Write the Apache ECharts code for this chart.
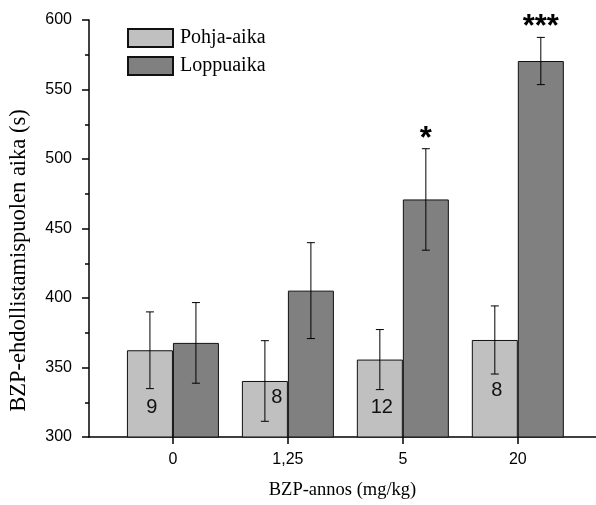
<!DOCTYPE html>
<html>
<head>
<meta charset="utf-8">
<script src="https://cdn.jsdelivr.net/npm/echarts@6/dist/echarts.min.js"></script>
<style>
  html, body { margin: 0; padding: 0; background: #fff; }
  #chart { width: 596px; height: 505px; }
</style>
</head>
<body>
<div id="chart"></div>
<script>
// dose groups (mg/kg)
const doses = ['0', '1,25', '5', '20'];
const baseMean = [362.4, 340.3, 355.7, 369.8];
const baseErr = [27.6, 29, 21.6, 24.5];
const endMean = [367.7, 405.3, 470.9, 570.5];
const endErr = [29, 34.5, 36.5, 17];
const counts = ['9', '8', '12', '8'];
const stars = ['', '', '*', '***'];
const yTicks = [300, 350, 400, 450, 500, 550, 600];

// label nudges inside the light bars [dx, rise above base]
const countNudge = [[2, 20], [12, 30], [2, 20], [2, 37]];

const BAR_W = 46;
const serif = '"Liberation Serif", "DejaVu Serif", serif';
const sans = '"Liberation Sans", Arial, sans-serif';

const xs = doses.map((d, i) => i + 1);

function errSeries(means, errs, side, marks) {
    return {
        type: 'custom',
        silent: true,
        z: 5,
        data: xs.map((x, i) => [x, means[i] - errs[i], means[i] + errs[i], i]),
        encode: { x: 0, y: [1, 2] },
        renderItem: function (params, api) {
            const lo = api.coord([api.value(0), api.value(1)]);
            const hi = api.coord([api.value(0), api.value(2)]);
            const cx = lo[0] + side * BAR_W / 2;
            const cap = 4;
            const style = { stroke: '#000', lineWidth: 1 };
            const children = [
                { type: 'line', shape: { x1: cx, y1: lo[1], x2: cx, y2: hi[1] }, style: style },
                { type: 'line', shape: { x1: cx - cap, y1: lo[1], x2: cx + cap, y2: lo[1] }, style: style },
                { type: 'line', shape: { x1: cx - cap, y1: hi[1], x2: cx + cap, y2: hi[1] }, style: style }
            ];
            const m = marks ? marks[api.value(3)] : '';
            if (m) {
                children.push({
                    type: 'text',
                    style: {
                        x: cx, y: hi[1] + 6, text: m,
                        align: 'center', verticalAlign: 'bottom',
                        font: 'bold 31px ' + sans, fill: '#000'
                    }
                });
            }
            return { type: 'group', children: children };
        }
    };
}

const chart = echarts.init(document.getElementById('chart'));

chart.setOption({
    animation: false,
    grid: { left: 87, right: 0, top: 20, bottom: 68, containLabel: false },
    legend: {
        orient: 'vertical',
        left: 127,
        top: 28,
        padding: 0,
        icon: 'rect',
        itemWidth: 45,
        itemHeight: 18,
        itemGap: 8,
        textStyle: { fontFamily: serif, fontSize: 20, lineHeight: 18, color: '#000', padding: [0, 0, 0, 2] },
        data: ['Pohja-aika', 'Loppuaika']
    },
    xAxis: {
        type: 'value',
        min: 0.27,
        max: 4.68,
        name: 'BZP-annos (mg/kg)',
        nameLocation: 'middle',
        nameGap: 44,
        nameTextStyle: { fontFamily: serif, fontSize: 18.5, color: '#000' },
        axisLine: { lineStyle: { color: '#000', width: 1.5 } },
        axisTick: { show: true, customValues: xs, length: 7, lineStyle: { color: '#000', width: 1.5 } },
        axisLabel: {
            customValues: xs,
            formatter: v => doses[Math.round(v) - 1],
            fontFamily: sans, fontSize: 16, color: '#000', margin: 15
        },
        splitLine: { show: false }
    },
    yAxis: {
        type: 'value',
        min: yTicks[0],
        max: yTicks[yTicks.length - 1],
        interval: 50,
        name: 'BZP-ehdollistamispuolen aika (s)',
        nameLocation: 'middle',
        nameGap: 58,
        nameTextStyle: { fontFamily: serif, fontSize: 22.5, color: '#000', padding: [0, 64, 0, 0] },
        axisLine: { show: true, lineStyle: { color: '#000', width: 1.5 } },
        axisTick: { show: true, length: 7, lineStyle: { color: '#000', width: 1.5 } },
        minorTick: { show: true, splitNumber: 2, length: 4, lineStyle: { color: '#000', width: 1.5 } },
        axisLabel: { fontFamily: sans, fontSize: 16, color: '#000', margin: 17 },
        splitLine: { show: false }
    },
    series: [
        {
            name: 'Pohja-aika',
            type: 'bar',
            barWidth: BAR_W,
            barGap: '0%',
            data: xs.map((x, i) => ({
                value: [x, baseMean[i]],
                label: { offset: [countNudge[i][0], -countNudge[i][1]] }
            })),
            itemStyle: { color: '#c0c0c0', borderColor: '#111', borderWidth: 1 },
            label: {
                show: true,
                position: 'insideBottom',
                distance: 0,
                formatter: p => counts[p.dataIndex],
                fontFamily: sans, fontSize: 20, color: '#111'
            }
        },
        {
            name: 'Loppuaika',
            type: 'bar',
            barWidth: BAR_W,
            barGap: '0%',
            data: xs.map((x, i) => [x, endMean[i]]),
            itemStyle: { color: '#808080', borderColor: '#111', borderWidth: 1 }
        },
        errSeries(baseMean, baseErr, -1, null),
        errSeries(endMean, endErr, 1, stars)
    ]
});
</script>
</body>
</html>
